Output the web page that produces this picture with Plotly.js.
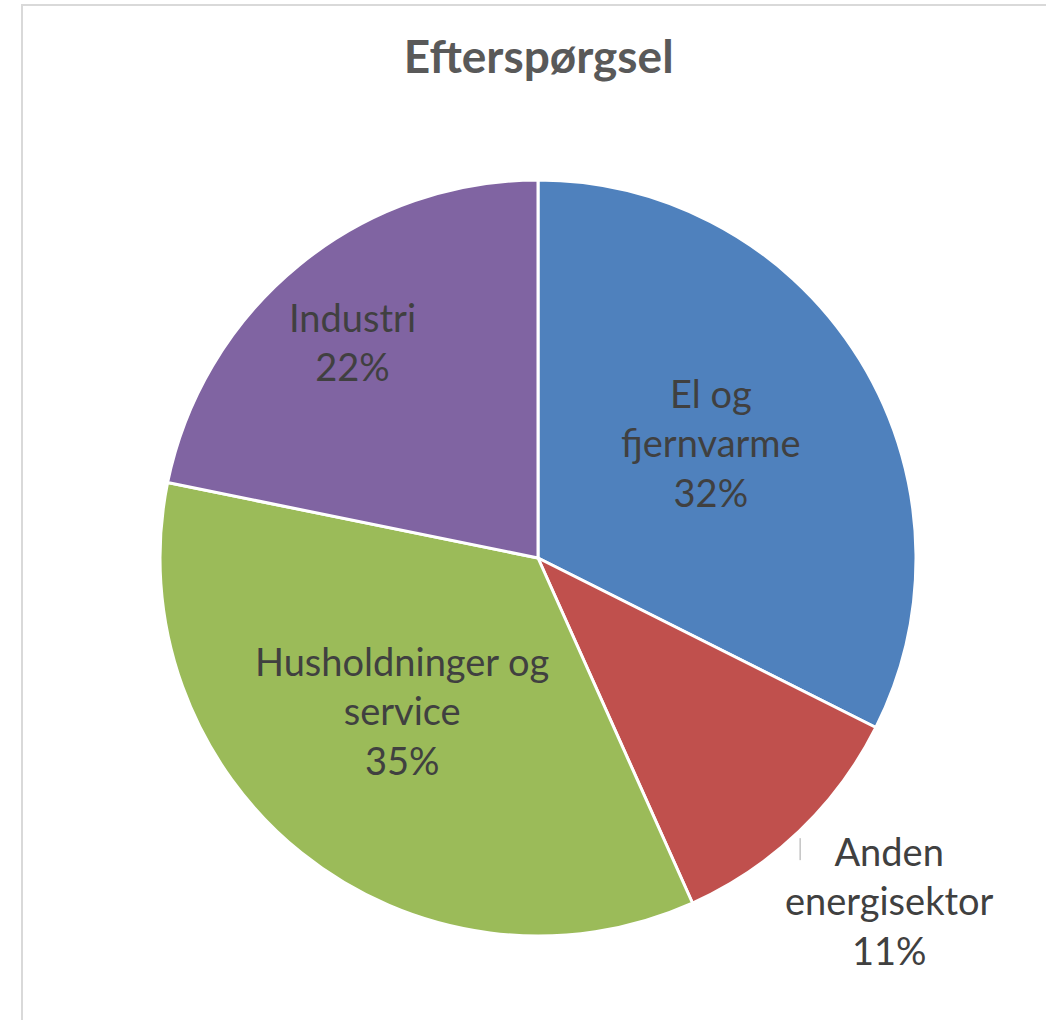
<!DOCTYPE html>
<html>
<head>
<meta charset="utf-8">
<script src="https://cdn.plot.ly/plotly-3.0.1.min.js"></script>
<style>
html,body{margin:0;padding:0;background:#fff;}
#wrap{position:relative;width:1046px;height:1020px;overflow:hidden;}
#chart{position:absolute;left:0;top:0;width:1046px;height:1020px;}
#frame{position:absolute;left:21px;top:4px;width:1100px;height:1100px;border-left:2px solid #d9d9d9;border-top:2px solid #d9d9d9;pointer-events:none;}
</style>
</head>
<body>
<div id="wrap"><div id="chart"></div><div id="frame"></div></div>
<script>
// ---- data ----
const categories = ["El og fjernvarme", "Anden energisektor", "Husholdninger og service", "Industri"];
const labelLines = ["El og<br>fjernvarme", "Anden<br>energisektor", "Husholdninger og<br>service", "Industri"];
const values = [32.4, 10.9, 34.9, 21.8];

// ---- styles / label placement (Excel-like best fit) ----
const colors = ["#4F81BD", "#C0504D", "#9BBB59", "#8064A2"];
const labelRadius = [0.551, 1.297, 0.540, 0.753];   // fraction of pie radius
const labelAngleShift = [-2.1, -2.0, 3.1, -1.3];    // degrees from slice mid-angle
const labelFont = {family: "Lato, 'Open Sans', sans-serif", size: 38, color: "#404040"};

const total = values.reduce((a, b) => a + b, 0);
const annotations = [];
let cum = 0;
values.forEach((v, i) => {
  const mid = (cum + v / 2) / total * 360 + labelAngleShift[i];
  cum += v;
  const rad = mid * Math.PI / 180;
  const x = 0.5 + 0.5 * labelRadius[i] * Math.sin(rad);
  const y = 0.5 + 0.5 * labelRadius[i] * Math.cos(rad);
  annotations.push({
    x: x, y: y, xref: "paper", yref: "paper",
    xanchor: "center", yanchor: "middle", align: "center",
    showarrow: false,
    text: labelLines[i] + "<br>" + Math.round(v / total * 100) + "%",
    font: labelFont
  });
});

// leader line for the outside label (Anden energisektor)
const outside = annotations[1];
const shapes = [{
  type: "line", xref: "paper", yref: "paper",
  x0: outside.x - 89/756, x1: outside.x - 89/756,
  y0: outside.y + 62/756, y1: outside.y + 40/756,
  line: {color: "#a6a6a6", width: 1}
}];

const data = [{
  type: "pie",
  labels: categories,
  values: values,
  sort: false,
  direction: "clockwise",
  rotation: 0,
  marker: {colors: colors, line: {color: "#ffffff", width: 3}},
  textinfo: "none",
  hoverinfo: "none",
  showlegend: false
}];

const layout = {
  width: 1046, height: 1020,
  margin: {l: 160, r: 130, t: 180, b: 84},
  paper_bgcolor: "#ffffff",
  title: {
    text: "<b>Efterspørgsel</b>",
    font: {family: "Lato, 'Open Sans', sans-serif", size: 46, color: "#595959"},
    x: 0.515, xanchor: "center",
    y: 1 - 57/1020, yanchor: "middle", yref: "container"
  },
  annotations: annotations,
  shapes: shapes,
  showlegend: false
};

Plotly.newPlot("chart", data, layout, {displayModeBar: false, staticPlot: true});
</script>
</body>
</html>
